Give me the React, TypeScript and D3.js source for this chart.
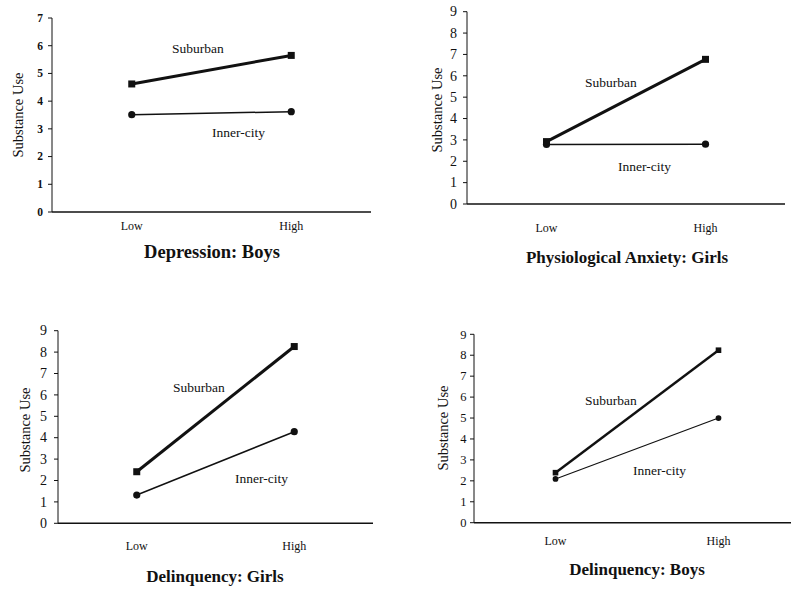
import React from "react";
import * as d3 from "d3";

const levels = ["Low", "High"];
const panelTitles = [
  "Depression: Boys",
  "Physiological Anxiety: Girls",
  "Delinquency: Girls",
  "Delinquency: Boys",
];
const yAxisLabel = "Substance Use";
const seriesNames = ["Suburban", "Inner-city"];
const yMaxValues = [7, 9, 9, 9];
const suburban = [
  [4.62, 5.65],
  [2.92, 6.77],
  [2.41, 8.26],
  [2.39, 8.24],
];
const innerCity = [
  [3.51, 3.62],
  [2.79, 2.8],
  [1.32, 4.28],
  [2.09, 5.0],
];

// layout (pixel geometry only)
const layout = [
  { ax: 52, top: 18, bottom: 212, xEnd: 371, catY: 230, title: [212, 258, 18.5], ylab: [18, 115], sub: [172, 53], inner: [212, 137], mk: 1, tf: 11.5, tw: "bold", tg: 9 },
  { ax: 467, top: 11.7, bottom: 204, xEnd: 785, catY: 232, title: [627, 263, 17], ylab: [437, 110], sub: [585, 87], inner: [618, 171], mk: 1, tf: 14, tw: "normal", tg: 10 },
  { ax: 58, top: 330.7, bottom: 523.3, xEnd: 373, catY: 550, title: [215, 582, 17], ylab: [25, 430], sub: [173, 392], inner: [235, 483], mk: 1, tf: 14, tw: "normal", tg: 11 },
  { ax: 474, top: 334.3, bottom: 522.7, xEnd: 800, catY: 545, title: [637, 575, 17], ylab: [443, 428], sub: [585, 405], inner: [633, 475], mk: 0.8, tf: 12.5, tw: "normal", tg: 7.5 },
];

const FONT = "'Liberation Serif', 'Times New Roman', serif";
const INK = "#111";

function Panel({ i }: { i: number }) {
  const L = layout[i];
  const x = d3.scalePoint<string>().domain(levels).range([L.ax, L.xEnd]).padding(0.5);
  const y = d3.scaleLinear().domain([0, yMaxValues[i]]).range([L.bottom, L.top]);
  const ticks = d3.range(0, yMaxValues[i] + 1);
  const line = d3
    .line<number>()
    .x((_, j) => x(levels[j]) as number)
    .y((v) => y(v));
  const sq = 7 * L.mk;
  const r = 3.6 * L.mk;
  return (
    <g>
      {/* y axis */}
      <line x1={L.ax} x2={L.ax} y1={L.top} y2={L.bottom} stroke={INK} strokeWidth={1} />
      {ticks.map((t) => (
        <g key={t}>
          <line x1={L.ax - 4} x2={L.ax} y1={y(t)} y2={y(t)} stroke={INK} strokeWidth={1} />
          <text
            x={L.ax - L.tg}
            y={y(t)}
            dy="0.34em"
            textAnchor="end"
            fontSize={L.tf}
            fontWeight={L.tw}
            fontFamily={FONT}
            fill={INK}
          >
            {t}
          </text>
        </g>
      ))}
      {/* x axis */}
      <line x1={L.ax} x2={L.xEnd} y1={L.bottom} y2={L.bottom} stroke={INK} strokeWidth={1.5} />
      {levels.map((c) => (
        <text key={c} x={x(c)} y={L.catY} textAnchor="middle" fontSize={12} fontFamily={FONT} fill={INK}>
          {c}
        </text>
      ))}
      {/* y label */}
      <text
        transform={`translate(${L.ylab[0]},${L.ylab[1]}) rotate(-90)`}
        textAnchor="middle"
        dy="0.34em"
        fontSize={14.5}
        fontFamily={FONT}
        fill={INK}
      >
        {yAxisLabel}
      </text>
      {/* inner-city */}
      <path d={line(innerCity[i]) as string} fill="none" stroke={INK} strokeWidth={1.5 * L.mk} />
      {innerCity[i].map((v, j) => (
        <circle key={j} cx={x(levels[j])} cy={y(v)} r={r} fill={INK} />
      ))}
      {/* suburban */}
      <path d={line(suburban[i]) as string} fill="none" stroke={INK} strokeWidth={3 * L.mk} />
      {suburban[i].map((v, j) => (
        <rect key={j} x={(x(levels[j]) as number) - sq / 2} y={y(v) - sq / 2} width={sq} height={sq} fill={INK} />
      ))}
      <text x={L.sub[0]} y={L.sub[1]} fontSize={13.5} fontFamily={FONT} fill={INK}>
        {seriesNames[0]}
      </text>
      <text x={L.inner[0]} y={L.inner[1]} fontSize={13.5} fontFamily={FONT} fill={INK}>
        {seriesNames[1]}
      </text>
      <text
        x={L.title[0]}
        y={L.title[1]}
        textAnchor="middle"
        fontSize={L.title[2]}
        fontWeight="bold"
        fontFamily={FONT}
        fill={INK}
      >
        {panelTitles[i]}
      </text>
    </g>
  );
}

export default function App() {
  return (
    <svg
      width={791}
      height={591}
      viewBox="0 0 791 591"
      style={{ position: "absolute", left: 0, top: 0, background: "#fff" }}
    >
      <rect width={791} height={591} fill="#fff" />
      {panelTitles.map((_, i) => (
        <Panel key={i} i={i} />
      ))}
    </svg>
  );
}
